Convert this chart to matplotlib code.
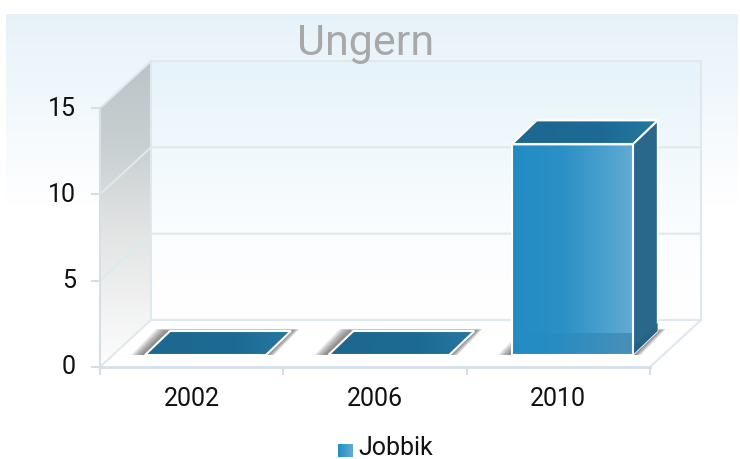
import numpy as np
import matplotlib
matplotlib.use("Agg")
import matplotlib.pyplot as plt
from matplotlib.colors import LinearSegmentedColormap as LSC
from matplotlib.patches import Polygon

categories = ["2002", "2006", "2010"]
jobbik = [0, 0, 12.2]
y_ticks = [0, 5, 10, 15]
title = "Ungern"
series_name = "Jobbik"

W, H = 740, 459
plt.rcParams["font.family"] = ["Roboto", "DejaVu Sans"]
fig = plt.figure(figsize=(W/100, H/100), dpi=100, facecolor="white")
ax = fig.add_axes([0, 0, 1, 1])
ax.axis("off")

# scale: pixels per unit of the front plane
PX_CAT = 550/3
PX_VAL = 259/15
X0_PX, Y0_PX = 100, 367
xlim = (-0.5 - X0_PX/PX_CAT, -0.5 + (W - X0_PX)/PX_CAT)
ylim = (-(H - Y0_PX)/PX_VAL, Y0_PX/PX_VAL)
DX, DY = 51/PX_CAT, 47/PX_VAL      # depth of the chart box
px = lambda v: v/PX_CAT
py = lambda v: v/PX_VAL

def grad(poly, stops, vertical=True, z=1, alpha=None):
    poly = np.array(poly, float)
    x0, x1, y0, y1 = poly[:, 0].min(), poly[:, 0].max(), poly[:, 1].min(), poly[:, 1].max()
    cmap = LSC.from_list("g", stops)
    g = np.linspace(0, 1, 256)
    g = g[:, None] if vertical else g[None, :]
    im = ax.imshow(g, extent=(x0, x1, y0, y1), origin="lower" if vertical else "upper",
                   cmap=cmap, vmin=0, vmax=1, aspect="auto", zorder=z, alpha=alpha,
                   interpolation="bilinear")
    clip = Polygon(poly, closed=True, transform=ax.transData, fc="none", ec="none")
    ax.add_patch(clip)
    im.set_clip_path(clip)
    return im

L, R = -0.5, 2.5
TOP = y_ticks[-1]
GRID = "#dfe9ed"
AXIS = "#d3e0e6"

# page background
pl = xlim[0] + px(6)
pr = xlim[0] + px(738)
grad([(pl, ylim[1]-py(14)), (pr, ylim[1]-py(14)), (pr, ylim[1]-py(205)), (pl, ylim[1]-py(205))],
     [(0, "#ffffff"), (1, "#e6f2f9")], z=0)

# back wall
grad([(L+DX, DY), (R+DX, DY), (R+DX, TOP+DY), (L+DX, TOP+DY)],
     [(0, "#ffffff"), (0.3, "#fcfdfe"), (0.62, "#f2f9fc"), (1, "#e5f3fa")], z=1)
# floor
ax.add_patch(Polygon([(L, 0), (R, 0), (R+DX, DY), (L+DX, DY)], fc="white", ec="none", zorder=1))
# left wall
grad([(L, 0), (L+DX, DY), (L+DX, TOP+DY), (L, TOP)],
     [(0, "#fdfdfd"), (0.45, "#e2e3e3"), (0.72, "#c9d0d2"), (1, "#bac4c7")], z=1)

# grid
for t in y_ticks:
    ax.plot([L, L+DX, R+DX], [t, t+DY, t+DY], color=GRID, lw=1.5, zorder=2, solid_joinstyle="miter")
ax.plot([L+DX, L+DX], [DY, TOP+DY], color=GRID, lw=1.5, zorder=2)
ax.plot([R+DX, R+DX], [DY, TOP+DY], color=GRID, lw=1.5, zorder=2)
ax.plot([R, R+DX], [0, DY], color=GRID, lw=1.5, zorder=2)

# axes lines and ticks
ax.plot([L, L], [0, TOP], color=AXIS, lw=1.5, zorder=3)
ax.plot([L, R], [0, 0], color=AXIS, lw=2, zorder=3)
for t in y_ticks:
    ax.plot([L-px(8), L], [t, t], color=AXIS, lw=1.5, zorder=3)
    ax.text(L-px(24), t+py(2), str(t), ha="right", va="center_baseline", fontsize=18, color="#111111", zorder=6)
for e in np.arange(L, R+0.01):
    ax.plot([e, e], [0, -py(7)], color=AXIS, lw=1.5, zorder=3)
for i, c in enumerate(categories):
    ax.text(i, -py(29), c, ha="center", va="center_baseline", fontsize=18, color="#111111", zorder=6)

# bars
BW = 121/PX_CAT
OX, OY = 45/PX_CAT, 12/PX_VAL      # bar offset inside its slot
BDX, BDY = 25/PX_CAT, 24/PX_VAL    # bar depth
for i, v in enumerate(jobbik):
    x0 = i - 0.5 + OX
    x1 = x0 + BW
    y0 = OY
    y1 = OY + v
    # shadow on the floor
    for k in range(14, 0, -1):
        ax.add_patch(Polygon([(x0-px(k), y0), (x1+px(k*0.6), y0),
                              (x1+BDX+px(k*0.6), y0+BDY+py(k*0.15)), (x0+BDX-px(k), y0+BDY+py(k*0.15))],
                             fc="#4a4a4a", alpha=0.075, ec="none", zorder=4))
    if v > 0:
        # right side
        ax.add_patch(Polygon([(x1, y0), (x1+BDX, y0+BDY), (x1+BDX, y1+BDY), (x1, y1)],
                             fc="#29688a", ec="white", lw=1.2, zorder=5, joinstyle="round"))
        grad([(x1, y0), (x1+BDX, y0+BDY), (x1+BDX, y0+BDY+py(8)), (x1, y0+py(8))],
             [(0, "#1f5f82"), (1, "#29688a")], z=5.1)
        # front face
        fr = [(x0, y0), (x1, y0), (x1, y1), (x0, y1)]
        grad(fr, [(0, "#218cc4"), (0.42, "#2b90c5"), (0.75, "#4aa0cd"), (1, "#62acd4")], vertical=False, z=5.2)
        ov = [(x0, y0), (x1, y0), (x1, y0+py(22)), (x0, y0+py(22))]
        grad(ov, [(0, "#218cc4"), (0.35, "#278cc2"), (1, "#4a90b8")], vertical=False, z=5.3)
        ax.add_patch(Polygon(fr, fc="none", ec="white", lw=1.5, zorder=5.6))
    # top face
    tp = [(x0, y1), (x1, y1), (x1+BDX, y1+BDY), (x0+BDX, y1+BDY)]
    grad(tp, [(0, "#1c6890"), (0.6, "#1c6a94"), (1, "#26789f")], vertical=False, z=5.4)
    ax.add_patch(Polygon(tp, fc="none", ec="white", lw=1.5, zorder=5.5))

# title
ax.text((L+R)/2 - px(9), ylim[1]-py(39), title, ha="center", va="center_baseline", fontsize=31, color="#a8a8a8", zorder=6)

# legend
lx = xlim[0] + px(338)
ly = ylim[1] - py(457)
grad([(lx, ly), (lx+px(15), ly), (lx+px(15), ly+py(13)), (lx, ly+py(13))],
     [(0, "#218cc4"), (1, "#62acd4")], vertical=False, z=6)
ax.text(lx+px(20), ly+py(2), series_name, ha="left", va="baseline", fontsize=18, color="#111111", zorder=6)

ax.set_xlim(*xlim)
ax.set_ylim(*ylim)
fig.savefig("out.png", dpi=100)
